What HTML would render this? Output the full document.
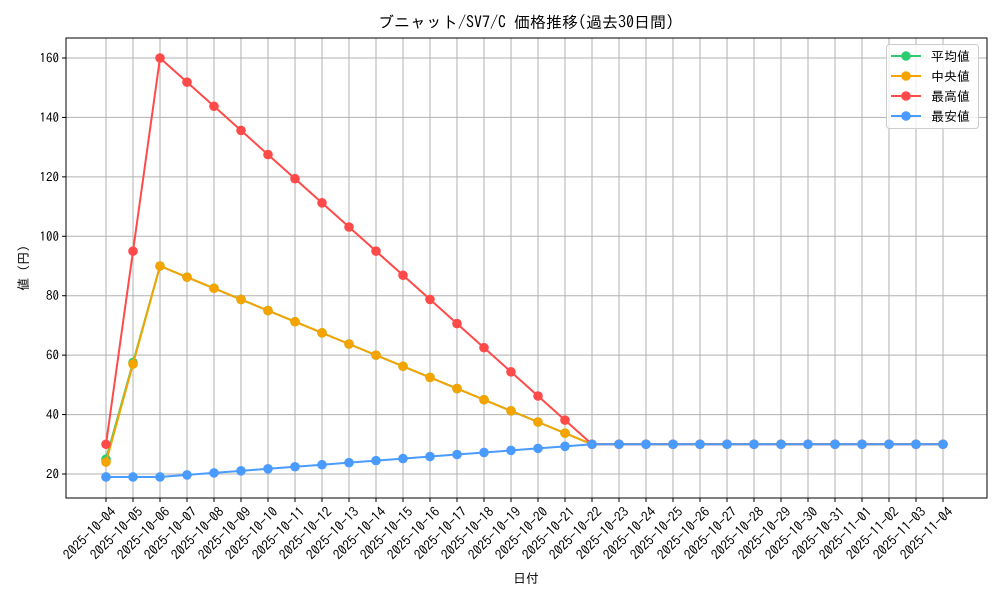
<!DOCTYPE html>
<html><head><meta charset="utf-8"><style>
body{margin:0;background:#fff}
svg text{font-family:"IPAGothic","Liberation Sans",sans-serif;fill:#000}
</style></head><body>
<svg id="s" width="1000" height="600" xmlns="http://www.w3.org/2000/svg"></svg>
<script>
const s=document.getElementById('s');
let h='';
const L=66,R=987,T=38,B=498;
const N=32;
const X=i=>106+i*(837/31);
const Y=v=>474-(v-20)*(416/140);
const dates=[];
for(let i=0;i<N;i++){const d=new Date(Date.UTC(2025,9,4+i));dates.push(d.toISOString().slice(0,10));}
for(let i=0;i<N;i++)h+=`<line x1="${X(i)}" y1="${T}" x2="${X(i)}" y2="${B}" stroke="#b0b0b0" stroke-width="1"/>`;
for(let v=20;v<=160;v+=20)h+=`<line x1="${L}" y1="${Y(v)}" x2="${R}" y2="${Y(v)}" stroke="#b0b0b0" stroke-width="1"/>`;
for(let i=0;i<N;i++){h+=`<line x1="${X(i)}" y1="${B}" x2="${X(i)}" y2="${B+4}" stroke="#000"/>`;
h+=`<text transform="translate(${X(i)+4},${B+8}) rotate(-45)" text-anchor="end" font-size="13.5" dy="0.7em">${dates[i]}</text>`;}
for(let v=20;v<=160;v+=20){h+=`<line x1="${L-4}" y1="${Y(v)}" x2="${L}" y2="${Y(v)}" stroke="#000"/>`;
h+=`<text x="${L-7}" y="${Y(v)+4.5}" text-anchor="end" font-size="13">${v}</text>`;}
const mx=[],md=[],mn=[],av=[];
for(let i=0;i<N;i++){
 if(i<2){mx.push([30,95][i]);md.push([24,57][i]);av.push([25,57.5][i]);mn.push(19);}
 else if(i<=18){mx.push(160-(i-2)*8.125);md.push(90-(i-2)*3.75);av.push(90-(i-2)*3.75);mn.push(19+(i-2)*0.6875);}
 else{mx.push(30);md.push(30);av.push(30);mn.push(30);}
}
function series(d,c){let p=d.map((v,i)=>X(i)+','+Y(v)).join(' ');
 let r=`<polyline points="${p}" fill="none" stroke="${c}" stroke-width="2"/>`;
 d.forEach((v,i)=>r+=`<circle cx="${X(i)}" cy="${Y(v)}" r="4.8" fill="${c}"/>`);return r;}
h+=series(av,'#2ecc71')+series(md,'#f5a300')+series(mx,'#ff4a4a')+series(mn,'#4a9bff');
h+=`<rect x="${L}" y="${T}" width="${R-L}" height="${B-T}" fill="none" stroke="#000" stroke-width="1"/>`;
h+=`<text x="526" y="28" text-anchor="middle" font-size="16">ブニャット/SV7/C 価格推移(過去30日間)</text>`;
h+=`<text x="526" y="583" text-anchor="middle" font-size="13">日付</text>`;
h+=`<text transform="translate(28,268) rotate(-90)" text-anchor="middle" font-size="13">値 (円)</text>`;
h+=`<rect x="886.5" y="44.5" width="92" height="84" rx="3" fill="#fff" fill-opacity="0.8" stroke="#ccc"/>`;
[['平均値','#2ecc71'],['中央値','#f5a300'],['最高値','#ff4a4a'],['最安値','#4a9bff']].forEach((e,k)=>{
 const y=56+k*20;
 h+=`<line x1="891" y1="${y}" x2="921" y2="${y}" stroke="${e[1]}" stroke-width="2"/><circle cx="906" cy="${y}" r="4.8" fill="${e[1]}"/>`;
 h+=`<text x="931" y="${y+5}" font-size="13">${e[0]}</text>`;});
s.innerHTML=h;
</script>
</body></html>
